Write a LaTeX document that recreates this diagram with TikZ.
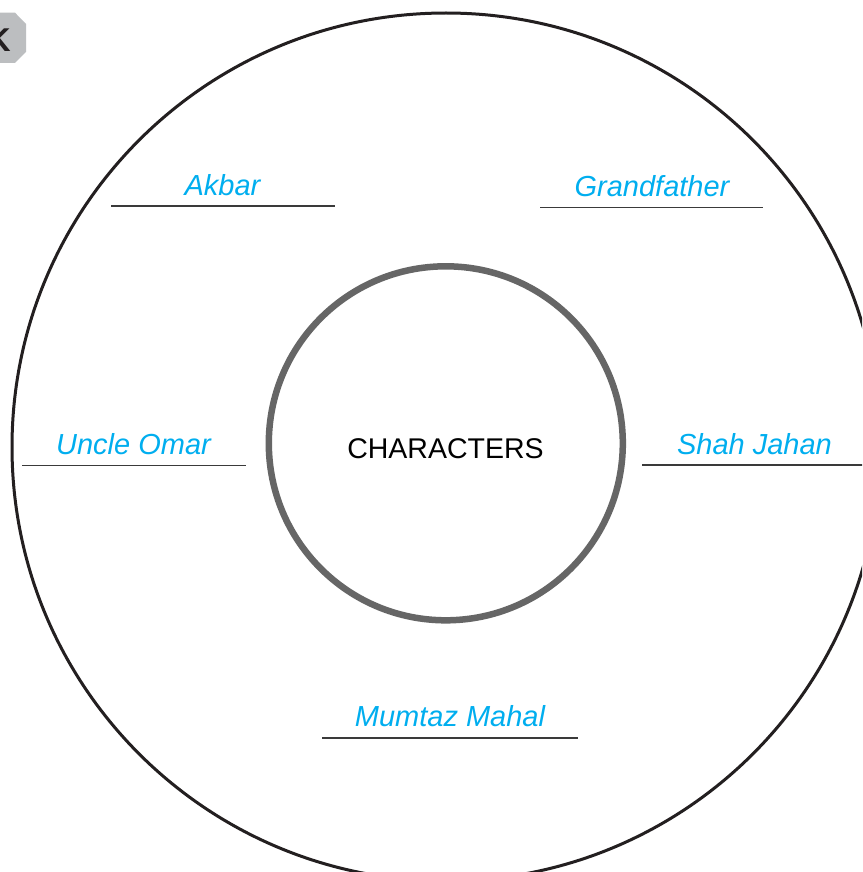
\documentclass[tikz,border=0pt]{standalone}
\usepackage{fontspec}
\newfontfamily\labfont{Liberation Sans}
\definecolor{labcyan}{HTML}{00AEEF}
\definecolor{inkblack}{HTML}{231F20}
\definecolor{ringgray}{HTML}{666666}
\definecolor{boxgray}{HTML}{BCBEC0}
\definecolor{linegray}{HTML}{3A3A3A}
\tikzset{
  namelabel/.style={anchor=base, inner sep=0pt, text=labcyan, font=\labfont\itshape\fontsize{29}{34}\selectfont},
  writeline/.style={draw=linegray, line width=1.5pt},
  outerring/.style={circle, draw=inkblack, line width=3pt, inner sep=0pt, minimum size=868pt},
  innerring/.style={circle, draw=ringgray, line width=6.5pt, inner sep=0pt, minimum size=354pt},
}
\begin{document}
\begin{tikzpicture}[x=1pt,y=-1pt]
\useasboundingbox (0,0) rectangle (862,872);
\fill[white] (0,0) rectangle (862,872);
\clip (0,0) rectangle (862,872);
% tab in top-left corner
\fill[boxgray] (15,12.7) -- (26,24) -- (26,52) -- (15,63) -- (-40,63) -- (-40,12.7) -- cycle;
\node[anchor=base east, inner sep=0pt, text=inkblack, font=\labfont\bfseries\fontsize{33}{38}\selectfont] (tab) at (11,52) {K};
% circles
\node[outerring] (outer) at (446,447) {};
\node[innerring] (inner) at (445.8,443.3) {};
\node[anchor=base, inner sep=0pt, text=black, font=\labfont\fontsize{28.5}{34}\selectfont] (title) at (445.5,458) {CHARACTERS};
% names
\node[namelabel] (akbar) at (222.5,195) {Akbar};
\coordinate (akL) at (111,206); \coordinate (akR) at (335,206);
\draw[writeline] (akL) -- (akR);
\node[namelabel] (grand) at (652,196) {Grandfather};
\coordinate (grL) at (540,207.5); \coordinate (grR) at (763,207.5);
\draw[writeline] (grL) -- (grR);
\node[namelabel] (omar) at (133.5,454) {Uncle Omar};
\coordinate (omL) at (22,465.5); \coordinate (omR) at (245.5,465.5);
\draw[writeline] (omL) -- (omR);
\node[namelabel] (shah) at (754.5,454) {Shah Jahan};
\coordinate (shL) at (642,465); \coordinate (shR) at (866,465);
\draw[writeline] (shL) -- (shR);
\node[namelabel] (mumtaz) at (450,726) {Mumtaz Mahal};
\coordinate (muL) at (322,738); \coordinate (muR) at (578,738);
\draw[writeline] (muL) -- (muR);
\end{tikzpicture}
\end{document}
